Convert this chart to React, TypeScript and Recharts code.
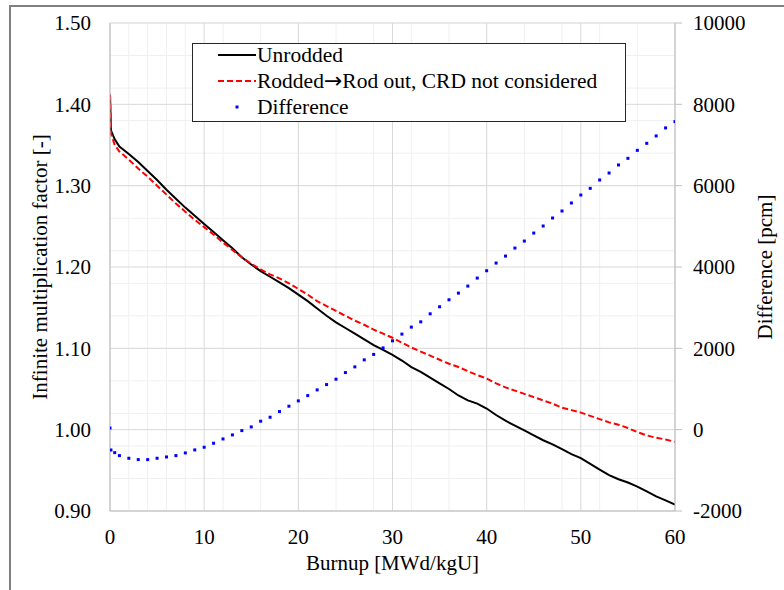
import React from 'react';
import { ComposedChart, Line, Scatter, XAxis, YAxis, CartesianGrid } from 'recharts';

const burnup = [0, 0.1, 0.5, 1, 2, 3, 4, 5, 6, 7, 8, 9, 10, 11, 12, 13, 14, 15, 16, 17, 18, 19, 20, 21, 22, 23, 24, 25, 26, 27, 28, 29, 30, 31, 32, 33, 34, 35, 36, 37, 38, 39, 40, 41, 42, 43, 44, 45, 46, 47, 48, 49, 50, 51, 52, 53, 54, 55, 56, 57, 58, 59, 60];

const unrodded = [1.412, 1.368, 1.357, 1.348, 1.339, 1.329, 1.318, 1.307, 1.295, 1.284, 1.273, 1.263, 1.253, 1.243, 1.233, 1.223, 1.212, 1.203, 1.195, 1.188, 1.181, 1.174, 1.166, 1.158, 1.149, 1.140, 1.132, 1.125, 1.118, 1.111, 1.104, 1.098, 1.092, 1.085, 1.077, 1.071, 1.064, 1.057, 1.050, 1.042, 1.036, 1.032, 1.026, 1.018, 1.011, 1.005, 0.999, 0.993, 0.987, 0.982, 0.976, 0.970, 0.965, 0.958, 0.951, 0.944, 0.939, 0.935, 0.930, 0.924, 0.918, 0.913, 0.908];

const rodded = [1.412, 1.364, 1.350, 1.342, 1.332, 1.321, 1.311, 1.300, 1.289, 1.278, 1.268, 1.258, 1.249, 1.240, 1.230, 1.221, 1.212, 1.204, 1.197, 1.191, 1.186, 1.180, 1.173, 1.166, 1.158, 1.152, 1.146, 1.140, 1.134, 1.129, 1.123, 1.118, 1.113, 1.107, 1.101, 1.096, 1.091, 1.086, 1.081, 1.077, 1.072, 1.067, 1.063, 1.057, 1.052, 1.048, 1.044, 1.040, 1.036, 1.032, 1.027, 1.024, 1.021, 1.017, 1.013, 1.009, 1.006, 1.002, 0.997, 0.993, 0.990, 0.988, 0.985];

const difference = [40, -500, -565, -638, -703, -736, -736, -703, -671, -638, -572, -498, -432, -334, -228, -129, -23, 68, 208, 306, 445, 577, 708, 838, 978, 1109, 1241, 1404, 1544, 1717, 1850, 2010, 2185, 2350, 2522, 2652, 2849, 3022, 3194, 3358, 3531, 3728, 3908, 4097, 4269, 4466, 4638, 4835, 5008, 5205, 5377, 5574, 5770, 5934, 6140, 6312, 6509, 6672, 6869, 7041, 7223, 7420, 7575];

const xTicks = [0, 10, 20, 30, 40, 50, 60];
const xMinorTicks = [0, 2, 4, 6, 8, 10, 12, 14, 16, 18, 20, 22, 24, 26, 28, 30, 32, 34, 36, 38, 40, 42, 44, 46, 48, 50, 52, 54, 56, 58, 60];
const leftTicks = [0.9, 1.0, 1.1, 1.2, 1.3, 1.4, 1.5];
const yMinorTicks = [0.9, 0.92, 0.94, 0.96, 0.98, 1.0, 1.02, 1.04, 1.06, 1.08, 1.1, 1.12, 1.14, 1.16, 1.18, 1.2, 1.22, 1.24, 1.26, 1.28, 1.3, 1.32, 1.34, 1.36, 1.38, 1.4, 1.42, 1.44, 1.46, 1.48, 1.5];
const rightTicks = [-2000, 0, 2000, 4000, 6000, 8000, 10000];

const seriesNames = [['Unrodded'], ['Rodded', '\u2192', 'Rod out, CRD not considered'], ['Difference']];
const xTitle = 'Burnup [MWd/kgU]';
const leftTitle = 'Infinite multiplication factor [-]';
const rightTitle = 'Difference [pcm]';

const data = burnup.map((b, i) => ({ b, u: unrodded[i], r: rodded[i], d: difference[i] }));

const FONT = "'Liberation Serif', 'Times New Roman', serif";
const FS = 21;
const tickStyle = { fill: '#000', fontSize: FS, fontFamily: FONT, style: { fontFamily: FONT } };

const LeftTitle = (props: any) => {
  const vb = props.viewBox;
  const cx = vb.x + 40;
  const cy = vb.y + vb.height / 2;
  return (
    <text x={cx} y={cy} transform={`rotate(-90, ${cx}, ${cy})`} textAnchor="middle" dominantBaseline="central" fill="#000" fontSize={FS} style={{ fontFamily: FONT }}>
      {leftTitle}
    </text>
  );
};

const RightTitle = (props: any) => {
  const vb = props.viewBox;
  const cx = vb.x + 90;
  const cy = vb.y + vb.height / 2;
  return (
    <text x={cx} y={cy} transform={`rotate(-90, ${cx}, ${cy})`} textAnchor="middle" dominantBaseline="central" fill="#000" fontSize={FS} style={{ fontFamily: FONT }}>
      {rightTitle}
    </text>
  );
};

const BottomTitle = (props: any) => {
  const vb = props.viewBox;
  const cx = vb.x + vb.width / 2;
  const cy = vb.y + 59;
  return (
    <text x={cx} y={cy} textAnchor="middle" fill="#000" fontSize={FS} style={{ fontFamily: FONT }}>
      {xTitle}
    </text>
  );
};

const DiffDot = (p: any) => (
  <rect x={p.cx - 1.5} y={p.cy - 1.5} width={3} height={3} fill="#0000ff" />
);

const LegendBox = () => (
  <div
    style={{
      position: 'absolute',
      left: 192,
      top: 43,
      width: 434,
      height: 79,
      boxSizing: 'border-box',
      border: '1.5px solid #262626',
      background: '#fff',
      fontFamily: FONT,
      fontSize: 21.5,
      color: '#000',
    }}
  >
    {seriesNames.map((parts, i) => (
      <div key={i} style={{ position: 'absolute', left: 0, top: 0 + i * 26, height: 22, width: 432 }}>
        <svg style={{ position: 'absolute', left: 25, top: 0 }} width={40} height={22}>
          {i === 0 && <line x1={0} y1={11} x2={38} y2={11} stroke="#000" strokeWidth={2} />}
          {i === 1 && <line x1={0} y1={11} x2={38} y2={11} stroke="#ff0000" strokeWidth={2} strokeDasharray="6 3" />}
          {i === 2 && <rect x={17.5} y={9.5} width={3} height={3} fill="#0000ff" />}
        </svg>
        <span style={{ position: 'absolute', left: 64, top: 0, lineHeight: '22px', whiteSpace: 'nowrap' }}>
          {parts.length === 1 ? (
            parts[0]
          ) : (
            <>
              {parts[0]}
              <span style={{ fontFamily: "'DejaVu Sans', sans-serif", fontSize: 22 }}>{parts[1]}</span>
              {parts[2]}
            </>
          )}
        </span>
      </div>
    ))}
  </div>
);

export default function App() {
  return (
    <div style={{ position: 'absolute', left: 0, top: 0, width: 784, height: 590, overflow: 'hidden', background: '#fff', fontFamily: FONT }}>
      <div
        style={{
          position: 'absolute',
          left: 9,
          top: 5,
          width: 800,
          height: 600,
          border: '2px solid #808080',
        }}
      />
      <div style={{ position: 'absolute', left: 0, top: 0 }}>
        <ComposedChart width={784} height={590} data={data} margin={{ top: 23, right: 0, bottom: 0, left: 0 }} style={{ fontFamily: FONT }}>
          <XAxis xAxisId="minor" type="number" dataKey="b" domain={[0, 60]} ticks={xMinorTicks} hide allowDataOverflow />
          <YAxis yAxisId="minor" type="number" domain={[0.9, 1.5]} ticks={yMinorTicks} hide allowDataOverflow />
          <CartesianGrid xAxisId="minor" yAxisId="minor" stroke="#f0f0f0" strokeWidth={1} />
          <CartesianGrid yAxisId="left" stroke="#d9d9d9" strokeWidth={1} />
          <XAxis
            type="number"
            dataKey="b"
            domain={[0, 60]}
            ticks={xTicks}
            height={79}
            tickLine={false}
            tickSize={0}
            tickMargin={18}
            axisLine={{ stroke: '#bfbfbf' }}
            tick={tickStyle}
            label={{ content: BottomTitle }}
            allowDataOverflow
          />
          <YAxis
            yAxisId="left"
            type="number"
            domain={[0.9, 1.5]}
            ticks={leftTicks}
            width={110}
            tickLine={false}
            tickSize={0}
            tickMargin={19}
            axisLine={{ stroke: '#bfbfbf' }}
            tick={tickStyle}
            tickFormatter={(v: number) => v.toFixed(2)}
            label={{ content: LeftTitle }}
            allowDataOverflow
          />
          <YAxis
            yAxisId="right"
            orientation="right"
            type="number"
            domain={[-2000, 10000]}
            ticks={rightTicks}
            width={109}
            tickSize={7}
            tickMargin={11}
            tickLine={{ stroke: '#bfbfbf' }}
            axisLine={{ stroke: '#bfbfbf' }}
            tick={{ ...tickStyle, textAnchor: 'start' }}
            label={{ content: RightTitle }}
            allowDataOverflow
          />
          <Line yAxisId="left" type="linear" dataKey="u" stroke="#000000" strokeWidth={2} dot={false} activeDot={false} isAnimationActive={false} />
          <Line yAxisId="left" type="linear" dataKey="r" stroke="#ff0000" strokeWidth={2} strokeDasharray="6 3" dot={false} activeDot={false} isAnimationActive={false} />
          <Scatter yAxisId="right" dataKey="d" fill="#0000ff" shape={DiffDot} isAnimationActive={false} />
        </ComposedChart>
      </div>
      <LegendBox />
    </div>
  );
}
